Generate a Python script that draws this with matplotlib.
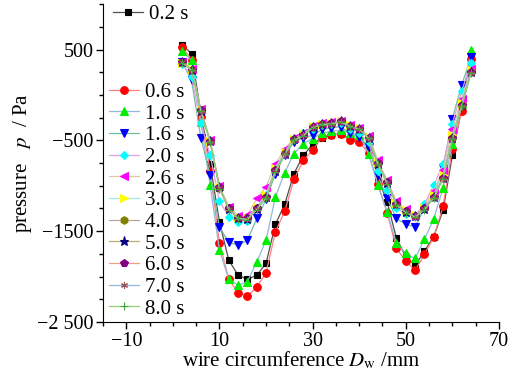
import numpy as np
import matplotlib
matplotlib.use('Agg')
import matplotlib.pyplot as plt
from matplotlib.ticker import FixedLocator, FixedFormatter, MultipleLocator

plt.rcParams['font.family'] = ['Liberation Serif', 'DejaVu Serif']
plt.rcParams['mathtext.fontset'] = 'stix'

# wire circumference positions (mm)
x = np.arange(2, 66, 2)

p_02 = [550, 455, -200, -760, -1400, -1820, -1985, -2030, -1985, -1855, -1425, -1205, -865, -665, -545, -470,
        -440, -430, -480, -500, -560, -900, -1180, -1580, -1780, -1875, -1720, -1560, -1270, -665, -150, 440]
p_06 = [530, 390, -240, -840, -1630, -2030, -2180, -2215, -2115, -1960, -1510, -1280, -930, -720, -610, -465,
        -440, -430, -500, -520, -640, -975, -1300, -1690, -1830, -1930, -1755, -1565, -1225, -590, -180, 400]
p_10 = [480, 380, -300, -995, -1710, -2030, -2095, -2055, -1840, -1600, -1125, -855, -645, -535, -480, -420,
        -400, -390, -420, -440, -645, -995, -1290, -1630, -1745, -1800, -1590, -1365, -1025, -540, -100, 500]
p_16 = [360, 160, -470, -885, -1455, -1620, -1655, -1600, -1360, -1150, -870, -660, -520, -470, -445, -380,
        -360, -350, -420, -465, -575, -885, -1140, -1360, -1425, -1450, -1250, -1100, -800, -260, 110, 415]
p_20 = [345, 200, -310, -665, -1170, -1340, -1400, -1390, -1250, -1100, -820, -630, -490, -420, -370, -330,
        -320, -310, -370, -420, -520, -840, -1050, -1250, -1310, -1330, -1200, -995, -765, -315, 40, 355]
p_26 = [360, 290, -160, -500, -1000, -1230, -1330, -1320, -1140, -1010, -760, -600, -470, -420, -340, -310,
        -300, -290, -330, -360, -450, -720, -940, -1170, -1260, -1320, -1220, -1060, -830, -380, -40, 290]
p_30 = [355, 285, -165, -505, -1010, -1240, -1340, -1350, -1230, -1100, -800, -630, -480, -430, -345, -315,
        -305, -290, -335, -365, -460, -740, -950, -1190, -1270, -1320, -1240, -1100, -880, -440, -90, 270]
p_40 = [360, 280, -170, -510, -1020, -1250, -1350, -1360, -1250, -1120, -830, -640, -490, -440, -350, -320,
        -310, -290, -340, -370, -470, -750, -960, -1200, -1280, -1330, -1250, -1120, -910, -470, -110, 255]
p_50 = [365, 278, -172, -512, -1015, -1255, -1355, -1365, -1255, -1125, -835, -645, -485, -435, -352, -322,
        -312, -292, -342, -372, -472, -755, -965, -1205, -1285, -1335, -1255, -1125, -915, -475, -115, 250]
p_60 = [360, 280, -170, -510, -1015, -1250, -1350, -1360, -1250, -1125, -830, -645, -490, -440, -350, -320,
        -310, -290, -340, -370, -470, -750, -960, -1200, -1280, -1330, -1250, -1120, -910, -470, -115, 250]
p_70 = [358, 276, -175, -515, -1025, -1258, -1358, -1368, -1258, -1130, -840, -650, -495, -445, -355, -325,
        -315, -295, -345, -375, -475, -760, -970, -1210, -1290, -1340, -1260, -1130, -920, -480, -120, 245]
p_80 = [355, 272, -180, -520, -1030, -1262, -1362, -1372, -1262, -1135, -845, -655, -500, -450, -360, -330,
        -318, -298, -348, -378, -478, -765, -975, -1215, -1295, -1345, -1265, -1135, -925, -485, -125, 240]

labels = ['0.2 s', '0.6 s', '1.0 s', '1.6 s', '2.0 s', '2.6 s', '3.0 s', '4.0 s', '5.0 s', '6.0 s', '7.0 s', '8.0 s']
series = [p_02, p_06, p_10, p_16, p_20, p_26, p_30, p_40, p_50, p_60, p_70, p_80]
markers = ['s', 'o', '^', 'v', 'D', '<', '>', 'h', '*', 'p', (6, 2, 0), '+']
mcolors = ['#000000', '#ff0000', '#00ee00', '#0000ff', '#00ffff', '#ff00ff', '#ffff00', '#808000',
           '#000080', '#800080', '#a05050', '#40a040']
lcolors = ['#505050', '#ff8080', '#90b8e0', '#70c0a0', '#e0a0e8', '#e0c8a0', '#a0e8e8', '#c0a0a0',
           '#b8b070', '#f0a080', '#90b8e0', '#90d070']
msizes = [5, 5.5, 5.5, 5.5, 4.5, 5.5, 5.5, 5.5, 6.5, 6, 5, 6]

fig = plt.figure(figsize=(5.23, 3.76), dpi=100)
ax = fig.add_axes([0.197, 0.1436, 0.757, 0.8454])

lines = []
for y, lab, m, mc, lc, ms in zip(series, labels, markers, mcolors, lcolors, msizes):
    ln, = ax.plot(x, y, color=lc, lw=0.9, marker=m, ms=ms, mfc=mc, mec=mc, mew=0.8, label=lab)
    lines.append(ln)

ax.set_xlim(-15, 70)
ax.set_ylim(-2500, 1000)
ax.xaxis.set_major_locator(FixedLocator([-10, 10, 30, 50, 70]))
ax.xaxis.set_minor_locator(MultipleLocator(5))
ax.yaxis.set_major_locator(FixedLocator([-2500, -1500, -500, 500]))
ax.yaxis.set_major_formatter(FixedFormatter(['\u22122 500', '\u22121500', '\u2212500', '500']))
ax.yaxis.set_minor_locator(MultipleLocator(250))
ax.tick_params(which='major', direction='out', length=5, width=1, labelsize=14.5, pad=2)
ax.tick_params(which='minor', direction='out', length=3, width=1)
ax.spines['top'].set_visible(False)
ax.spines['right'].set_visible(False)

ax.set_xlabel('wire circumference $D_{\\mathrm{w}}$ /mm', fontsize=15, labelpad=-1)
ax.set_ylabel('pressure   $p$  / Pa', fontsize=15, labelpad=2)

leg1 = ax.legend(handles=lines[:1], loc='upper left', bbox_to_anchor=(0.005, 1.025), frameon=False,
                 fontsize=15, handlelength=1.4, handletextpad=0.3, borderaxespad=0)
ax.add_artist(leg1)
ax.legend(handles=lines[1:], loc='upper left', bbox_to_anchor=(-0.005, 0.78), frameon=False,
          fontsize=15, handlelength=1.4, handletextpad=0.3, labelspacing=0.1, borderaxespad=0)

fig.savefig('out.png', dpi=100)
